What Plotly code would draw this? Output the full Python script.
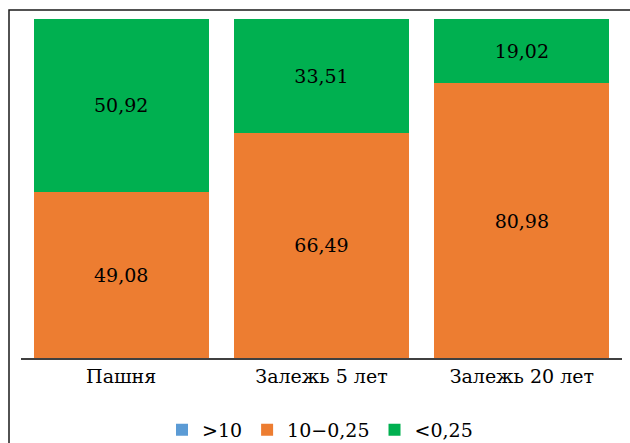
import plotly.graph_objects as go

# Share of particle-size fractions, %
categories = ["Пашня", "Залежь 5 лет", "Залежь 20 лет"]
series_names = [">10", "10−0,25", "<0,25"]
frac_gt10 = [0, 0, 0]
frac_10_025 = [49.08, 66.49, 80.98]
frac_lt025 = [50.92, 33.51, 19.02]
colors = ["#5B9BD5", "#ED7D31", "#00B050"]

FONT = "DejaVu Serif"
FS = 19


def fmt(values):
    return [f"{v:.2f}".replace(".", ",") if v else "" for v in values]


fig = go.Figure()
for name, vals, col in zip(series_names, [frac_gt10, frac_10_025, frac_lt025], colors):
    fig.add_trace(go.Bar(
        x=categories, y=vals, name=name,
        marker=dict(color=col, line=dict(width=0)),
        text=fmt(vals), textposition="inside", insidetextanchor="middle",
        textfont=dict(family=FONT, size=FS, color="black"),
        hoverinfo="skip",
    ))

L, R, T, B = 21, 8, 19, 85
W, H = 630, 443
pw, ph = W - L - R, H - T - B

fig.update_layout(
    width=W, height=H,
    barmode="stack", bargap=0.125,
    margin=dict(l=L, r=R, t=T, b=B, autoexpand=False),
    paper_bgcolor="white", plot_bgcolor="white",
    font=dict(family=FONT, size=FS, color="black"),
    xaxis=dict(showline=True, linecolor="#404040", linewidth=1.5,
               ticks="", tickfont=dict(family=FONT, size=FS, color="black"),
               showgrid=False, zeroline=False),
    yaxis=dict(range=[0, 100], visible=False, showgrid=False),
    legend=dict(orientation="h", x=0.4975, xanchor="center",
                y=-0.212, yanchor="middle", traceorder="normal",
                bgcolor="rgba(0,0,0,0)",
                font=dict(family=FONT, size=FS, color="black"),
                itemwidth=30, tracegroupgap=0),
    uniformtext=dict(minsize=FS, mode="show"),
    shapes=[dict(type="rect", xref="paper", yref="paper",
                 x0=(9 - L) / pw, x1=(W + 3 - L) / pw,
                 y0=-(H + 5 - (T + ph)) / ph, y1=((T + ph) - 10) / ph,
                 line=dict(color="#1a1a1a", width=1.5), layer="below")],
)

fig.write_html("out.html")
